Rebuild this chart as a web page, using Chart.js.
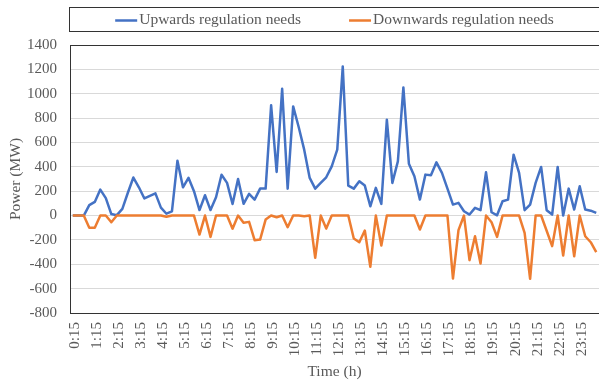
<!DOCTYPE html>
<html>
<head>
<meta charset="utf-8">
<script src="https://cdn.jsdelivr.net/npm/chart.js@4/dist/chart.umd.min.js"></script>
<style>
  html, body { margin: 0; padding: 0; background: #ffffff; overflow: hidden; }
  #wrap { width: 599px; height: 383px; }
</style>
</head>
<body>
<div id="wrap"><canvas id="chart" width="599" height="383"></canvas></div>
<script>
// Quarter-hour time steps over one day
const timeLabels = [
  '0:15','0:30','0:45','1:00','1:15','1:30','1:45','2:00',
  '2:15','2:30','2:45','3:00','3:15','3:30','3:45','4:00',
  '4:15','4:30','4:45','5:00','5:15','5:30','5:45','6:00',
  '6:15','6:30','6:45','7:00','7:15','7:30','7:45','8:00',
  '8:15','8:30','8:45','9:00','9:15','9:30','9:45','10:00',
  '10:15','10:30','10:45','11:00','11:15','11:30','11:45','12:00',
  '12:15','12:30','12:45','13:00','13:15','13:30','13:45','14:00',
  '14:15','14:30','14:45','15:00','15:15','15:30','15:45','16:00',
  '16:15','16:30','16:45','17:00','17:15','17:30','17:45','18:00',
  '18:15','18:30','18:45','19:00','19:15','19:30','19:45','20:00',
  '20:15','20:30','20:45','21:00','21:15','21:30','21:45','22:00',
  '22:15','22:30','22:45','23:00','23:15','23:30','23:45','24:00'
];

// Upwards regulation needs (MW)
const upwardsNeeds = [
  0, 0, 0, 85, 112, 213, 143, 12,
  3, 55, 187, 312, 232, 140, 162, 182,
  65, 15, 35, 450, 232, 310, 200, 45,
  167, 45, 150, 335, 268, 95, 300, 96,
  178, 131, 221, 221, 905, 358, 1041, 221,
  896, 727, 541, 309, 221, 268, 314, 404,
  541, 1224, 246, 221, 281, 246, 76, 227,
  96, 787, 268, 445, 1052, 426, 322, 131,
  336, 330, 437, 350, 221, 90, 104, 35,
  8, 63, 44, 355, 27, 2, 117, 131,
  500, 350, 44, 90, 268, 399, 44, 8,
  399, 0, 221, 49, 240, 49, 40, 22
];

// Downwards regulation needs (MW)
const downwardsNeeds = [
  0, 0, 0, -100, -100, 0, 0, -55,
  0, 0, 0, 0, 0, 0, 0, 0,
  0, -10, 0, 0, 0, 0, 0, -156,
  0, -175, 0, 0, 0, -108, 0, -60,
  -52, -202, -197, -33, 0, -14, 0, -96,
  0, 0, -5, 0, -347, 0, -107, 0,
  0, 0, 0, -189, -219, -123, -421, 0,
  -246, 0, 0, 0, 0, 0, 0, -115,
  0, 0, 0, 0, 0, -517, -120, 0,
  -366, -170, -394, 0, -55, -175, 0, 0,
  0, 0, -142, -519, 0, 0, -125, -251,
  0, -328, 0, -334, 0, -170, -219, -301
];

const yMin = -800;
const yMax = 1400;
const yStep = 200;

const seriesNames = ['Upwards regulation needs', 'Downwards regulation needs'];
const seriesColors = ['#4472C4', '#ED7D31'];

const serif = "'Liberation Serif', 'Times New Roman', serif";
const textGrey = '#595959';
const frameColor = '#333333';

// Legend drawn inside a framed strip above the plot
const boxedLegend = {
  id: 'boxedLegend',
  afterDraw(chart) {
    const { ctx, chartArea } = chart;
    ctx.save();
    ctx.strokeStyle = frameColor;
    ctx.lineWidth = 1;
    ctx.strokeRect(chartArea.left - 0.5, 7.5, chart.width, 24);

    ctx.font = '15.5px ' + serif;
    const sample = 22, gapText = 2, gapItem = 48, midY = 20;
    const items = chart.data.datasets.map(ds => ({
      text: ds.label, color: ds.borderColor, w: ctx.measureText(ds.label).width
    }));
    const total = items.reduce((s, it) => s + sample + gapText + it.w, 0) + gapItem * (items.length - 1);
    let x = (chartArea.left + chartArea.right) / 2 - total / 2;
    items.forEach(it => {
      ctx.strokeStyle = it.color;
      ctx.lineWidth = 2.5;
      ctx.beginPath();
      ctx.moveTo(x, midY + 0.5);
      ctx.lineTo(x + sample, midY + 0.5);
      ctx.stroke();
      ctx.fillStyle = textGrey;
      ctx.textBaseline = 'middle';
      ctx.textAlign = 'left';
      ctx.fillText(it.text, x + sample + gapText, midY);
      x += sample + gapText + it.w + gapItem;
    });
    ctx.restore();
  }
};

new Chart(document.getElementById('chart'), {
  type: 'line',
  data: {
    labels: timeLabels,
    datasets: [
      {
        label: seriesNames[0],
        data: upwardsNeeds,
        borderColor: seriesColors[0],
        backgroundColor: seriesColors[0],
        borderWidth: 2.5,
        pointRadius: 0,
        tension: 0,
        borderJoinStyle: 'round',
        order: 1
      },
      {
        label: seriesNames[1],
        data: downwardsNeeds,
        borderColor: seriesColors[1],
        backgroundColor: seriesColors[1],
        borderWidth: 2.5,
        pointRadius: 0,
        tension: 0,
        borderJoinStyle: 'round',
        order: 0
      }
    ]
  },
  options: {
    responsive: false,
    animation: false,
    layout: { padding: { top: 45, left: 0, right: 0, bottom: 0 } },
    plugins: {
      legend: { display: false },
      tooltip: { enabled: false }
    },
    scales: {
      x: {
        offset: true,
        grid: { display: false, drawTicks: false },
        border: { display: true, color: frameColor, width: 1 },
        ticks: {
          autoSkip: false,
          minRotation: 90,
          maxRotation: 90,
          padding: 9,
          labelOffset: 2,
          color: textGrey,
          font: { family: serif, size: 15 },
          callback: (v, i) => (i % 4 === 0 ? timeLabels[i] : '')
        },
        title: {
          display: true,
          text: 'Time (h)',
          color: textGrey,
          font: { family: serif, size: 15.5 },
          padding: { top: 0, bottom: 2 }
        },
        afterFit: scale => {
          scale.height = 70;
          scale.paddingLeft = 0;
          scale.paddingRight = 0;
        }
      },
      y: {
        min: yMin,
        max: yMax,
        grid: {
          drawTicks: false,
          lineWidth: 1,
          color: c => (c.tick && (c.tick.value === yMax || c.tick.value === yMin) ? frameColor : '#d9d9d9')
        },
        border: { display: true, color: frameColor, width: 1 },
        ticks: {
          stepSize: yStep,
          padding: 13,
          color: textGrey,
          font: { family: serif, size: 15 },
          callback: v => String(v)
        },
        title: {
          display: true,
          text: 'Power (MW)',
          color: textGrey,
          font: { family: serif, size: 15.5 },
          padding: { top: 7, bottom: 0 }
        },
        afterFit: scale => {
          scale.width = 70;
          scale.paddingTop = 0;
          scale.paddingBottom = 0;
        }
      }
    }
  },
  plugins: [boxedLegend]
});
</script>
</body>
</html>
